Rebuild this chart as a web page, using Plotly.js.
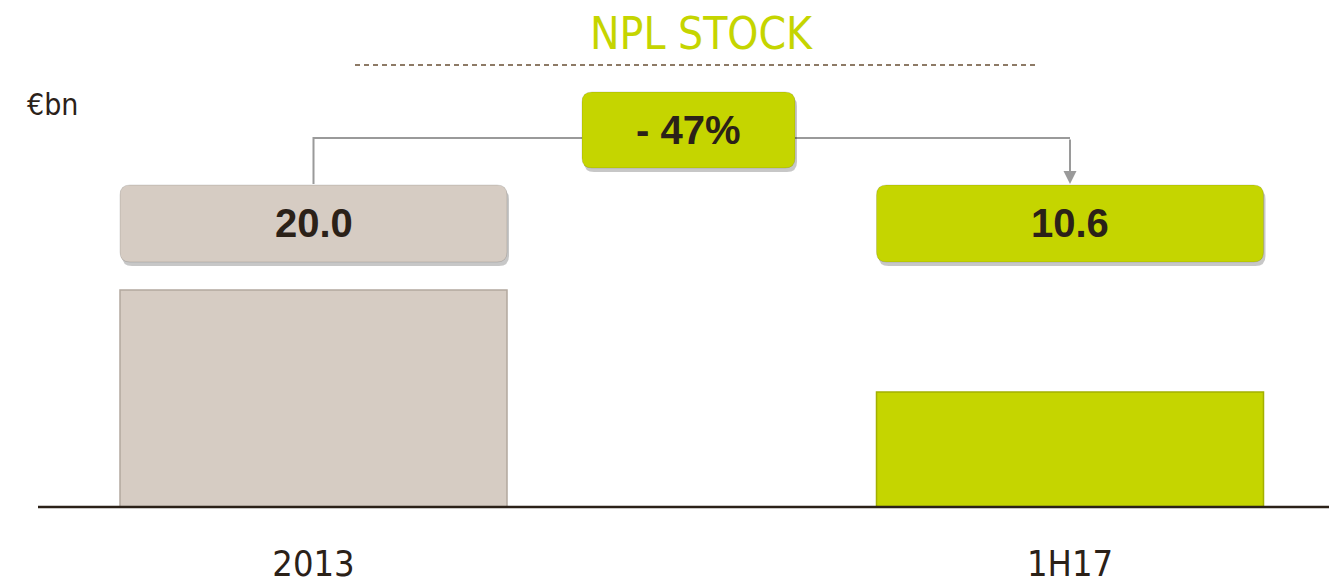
<!DOCTYPE html>
<html>
<head>
<meta charset="utf-8">
<script src="https://cdn.plot.ly/plotly-3.0.1.min.js"></script>
<style>html,body{margin:0;padding:0;background:#fff;}#chart{width:1329px;height:586px;}</style>
</head>
<body>
<div id="chart"></div>
<script>
// ---- data ----
const categories = ['2013', '1H17'];
const values = [20.0, 10.6];
const valueLabels = ['20.0', '10.6'];
const changeLabel = '- 47%';
const unitLabel = '€bn';
const chartTitle = 'NPL STOCK';

// ---- style ----
const LIME = '#c5d500';
const BEIGE = '#d6ccc3';
const DARK = '#2b2118';
const GREY = '#9a9a9a';
const barColors = [BEIGE, LIME];
const boxColors = [BEIGE, LIME];
const FONT = '"Liberation Sans Narrow", "DejaVu Sans Condensed", "Liberation Sans", Arial, sans-serif';
const BOLD = '"Liberation Sans", Arial, sans-serif';

// ---- geometry helpers (pixel layout -> paper / data) ----
const W = 1329, H = 586, PLOT_BOTTOM = 507;
const PX_PER_UNIT = 10.85;
const CAT_STEP = 756.5, CAT0_PX = 313.5;
const BAR_WIDTH = 387 / CAT_STEP;
const xOf = px => (px - CAT0_PX) / CAT_STEP;
const yOf = py => (PLOT_BOTTOM - py) / PLOT_BOTTOM;  // paper y
const RX = 10 / CAT_STEP, RY = 10 / PLOT_BOTTOM;

function roundRect(x0, x1, y0, y1) { // x data, y paper; y0 bottom, y1 top
  return `M${x0 + RX},${y1} L${x1 - RX},${y1} Q${x1},${y1} ${x1},${y1 - RY} ` +
    `L${x1},${y0 + RY} Q${x1},${y0} ${x1 - RX},${y0} L${x0 + RX},${y0} ` +
    `Q${x0},${y0} ${x0},${y0 + RY} L${x0},${y1 - RY} Q${x0},${y1} ${x0 + RX},${y1} Z`;
}

const shapes = [];
const annotations = [];

// baseline
shapes.push({type: 'line', xref: 'x', yref: 'paper', x0: xOf(38), x1: xOf(W), y0: 0, y1: 0,
  line: {color: DARK, width: 2.5}});
// dotted title rule
shapes.push({type: 'line', xref: 'paper', yref: 'paper', x0: 355 / W, x1: 1035 / W, y0: yOf(65), y1: yOf(65),
  line: {color: '#8d7a66', width: 2, dash: '5px,4px'}});

// value boxes
const boxTop = yOf(185), boxBot = yOf(262);
const sdx = 2 / CAT_STEP, sdy = 4 / PLOT_BOTTOM;
categories.forEach((c, i) => {
  const x0 = i - BAR_WIDTH / 2, x1 = i + BAR_WIDTH / 2;
  shapes.push({type: 'path', xref: 'x', yref: 'paper', path: roundRect(x0 + sdx, x1 + sdx, boxBot - sdy, boxTop - sdy),
    fillcolor: 'rgba(0,0,0,0.22)', line: {width: 0}});
  shapes.push({type: 'path', xref: 'x', yref: 'paper', path: roundRect(x0, x1, boxBot, boxTop),
    fillcolor: boxColors[i], line: {color: 'rgba(0,0,0,0.12)', width: 1}});
  annotations.push({xref: 'x', yref: 'paper', x: i, y: (boxTop + boxBot) / 2, text: '<b>' + valueLabels[i] + '</b>',
    showarrow: false, font: {family: BOLD, size: 40, color: DARK}, xanchor: 'center', yanchor: 'middle'});
});

// change box
const cx0 = xOf(582), cx1 = xOf(795);
const cTop = yOf(92), cBot = yOf(168), cMid = yOf(138);
// connector lines
shapes.push({type: 'path', xref: 'x', yref: 'paper',
  path: `M0,${yOf(184)} L0,${cMid} L${cx0},${cMid}`, line: {color: GREY, width: 2}});
shapes.push({type: 'line', xref: 'x', yref: 'paper', x0: cx1, x1: 1, y0: cMid, y1: cMid, line: {color: GREY, width: 2}});
shapes.push({type: 'path', xref: 'x', yref: 'paper', path: roundRect(cx0 + sdx, cx1 + sdx, cBot - sdy, cTop - sdy),
  fillcolor: 'rgba(0,0,0,0.22)', line: {width: 0}});
shapes.push({type: 'path', xref: 'x', yref: 'paper', path: roundRect(cx0, cx1, cBot, cTop),
  fillcolor: LIME, line: {color: 'rgba(0,0,0,0.12)', width: 1}});
annotations.push({xref: 'x', yref: 'paper', x: (cx0 + cx1) / 2, y: (cTop + cBot) / 2, text: '<b>' + changeLabel + '</b>',
  showarrow: false, font: {family: BOLD, size: 40, color: DARK}, xanchor: 'center', yanchor: 'middle'});
// arrow down to 1H17 box
annotations.push({xref: 'x', yref: 'paper', x: 1, y: yOf(184), ax: 0, ay: -46, text: '', showarrow: true,
  arrowhead: 2, arrowsize: 1.3, arrowwidth: 2, arrowcolor: GREY, standoff: 0});

// unit label
annotations.push({xref: 'paper', yref: 'paper', x: 25 / W, y: yOf(105), xanchor: 'left', yanchor: 'middle',
  text: unitLabel, showarrow: false, font: {family: FONT, size: 30, color: DARK}});

const trace = {
  type: 'bar', x: categories, y: values, width: BAR_WIDTH,
  marker: {color: barColors, line: {color: ['#b3a89e', '#a3b000'], width: 1.5}},
  hoverinfo: 'skip'
};

const layout = {
  width: W, height: H,
  margin: {l: 0, r: 0, t: 0, b: H - PLOT_BOTTOM, pad: 0},
  paper_bgcolor: '#ffffff', plot_bgcolor: '#ffffff',
  showlegend: false,
  title: {text: chartTitle, x: 701 / W, xanchor: 'center', xref: 'paper', y: 1 - 34 / H, yref: 'container', yanchor: 'middle',
    font: {family: FONT, size: 44, color: LIME}},
  xaxis: {type: 'category', range: [xOf(0), xOf(W)], showgrid: false, zeroline: false, showline: false,
    ticks: '', ticklabelstandoff: 32, tickfont: {family: FONT, size: 36, color: DARK}, fixedrange: true},
  yaxis: {range: [0, PLOT_BOTTOM / PX_PER_UNIT], visible: false, showgrid: false, zeroline: false, fixedrange: true},
  shapes: shapes,
  annotations: annotations
};

Plotly.newPlot('chart', [trace], layout, {displayModeBar: false, staticPlot: true});
</script>
</body>
</html>
